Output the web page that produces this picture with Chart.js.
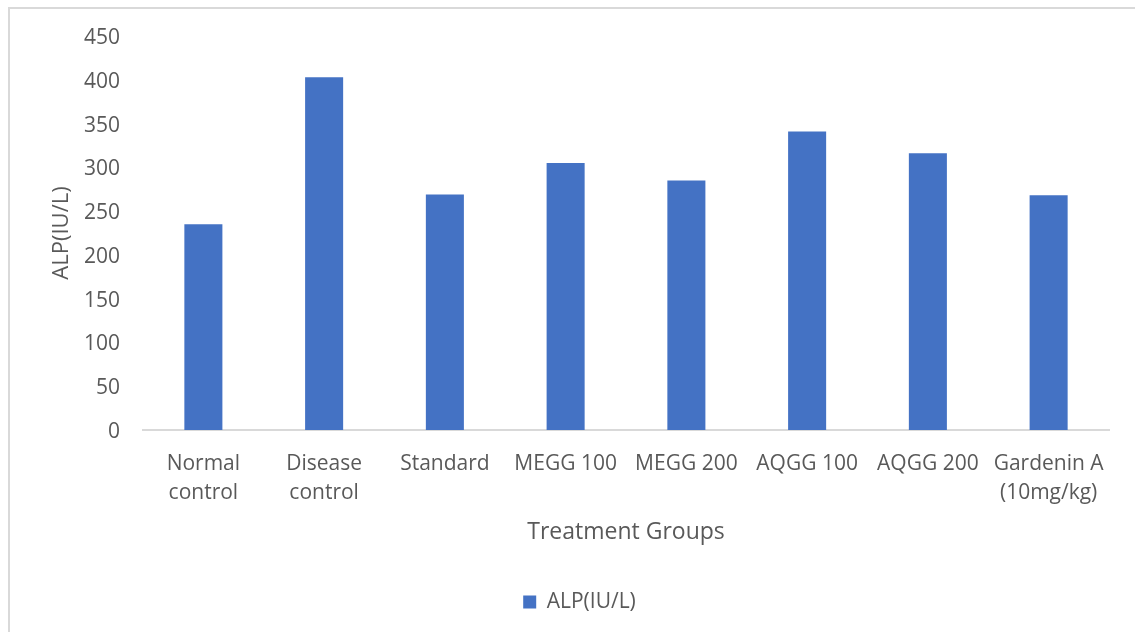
<!DOCTYPE html>
<html>
<head>
<meta charset="utf-8">
<title>ALP(IU/L) by treatment group</title>
<script src="https://cdn.jsdelivr.net/npm/chart.js@4.4.1/dist/chart.umd.min.js"></script>
<style>
  html, body { margin: 0; padding: 0; background: #ffffff; }
  body { width: 1135px; height: 632px; position: relative; overflow: hidden; }
  #frame {
    position: absolute; left: 8px; top: 7px; width: 1200px; height: 700px;
    border-left: 2px solid #d9d9d9; border-top: 2px solid #d9d9d9;
  }
  #wrap { position: absolute; left: 0; top: 0; width: 1135px; height: 632px; }
</style>
</head>
<body>
<div id="frame"></div>
<div id="wrap"><canvas id="chart" width="1135" height="632"></canvas></div>
<script>
// Treatment groups along the x axis (arrays wrap onto two lines)
const categories = [
  ["Normal", "control"],
  ["Disease", "control"],
  "Standard",
  "MEGG 100",
  "MEGG 200",
  "AQGG 100",
  "AQGG 200",
  ["Gardenin A", "(10mg/kg)"]
];

// Serum ALP per group
const seriesName = "ALP(IU/L)";
const alpValues = [235, 403, 269, 305, 285, 341, 316, 268];

// Value axis range
const yMin = 0;
const yMax = 450;
const yStep = 50;

const textColor = "#595959";
const barColor = "#4472C4";
const fontFamily = "'Open Sans', 'Noto Sans', sans-serif";

new Chart(document.getElementById("chart"), {
  type: "bar",
  data: {
    labels: categories,
    datasets: [{
      label: seriesName,
      data: alpValues,
      backgroundColor: barColor,
      borderWidth: 0,
      barPercentage: 0.315,
      categoryPercentage: 1.0
    }]
  },
  options: {
    responsive: false,
    animation: false,
    layout: { padding: { top: 36, left: 50, right: 26, bottom: 9.5 } },
    plugins: {
      tooltip: { enabled: false },
      legend: {
        position: "bottom",
        align: "center",
        labels: {
          color: textColor,
          font: { family: fontFamily, size: 21 },
          boxWidth: 13,
          boxHeight: 13,
          padding: 10
        }
      }
    },
    scales: {
      x: {
        grid: { display: false, drawTicks: false },
        border: { display: true, color: "#d9d9d9", width: 2 },
        ticks: {
          color: textColor,
          font: { family: fontFamily, size: 21, lineHeight: "29px" },
          padding: 19.5,
          autoSkip: false,
          maxRotation: 0,
          minRotation: 0
        },
        title: {
          display: true,
          text: "Treatment Groups",
          color: textColor,
          font: { family: fontFamily, size: 23, lineHeight: 1.2 },
          padding: { top: 0, bottom: 35.2 }
        },
        afterFit: (scale) => { scale.height = 151.5; }
      },
      y: {
        min: yMin,
        max: yMax,
        grid: { display: false, drawTicks: false },
        border: { display: false },
        ticks: {
          stepSize: yStep,
          color: textColor,
          font: { family: fontFamily, size: 21 },
          padding: 23,
          labelOffset: 2
        },
        title: {
          display: true,
          text: seriesName,
          color: textColor,
          font: { family: fontFamily, size: 22, lineHeight: 1.0 },
          padding: { top: 1, bottom: 0 }
        },
        afterFit: (scale) => { scale.width = 93; }
      }
    }
  }
});
</script>
</body>
</html>
